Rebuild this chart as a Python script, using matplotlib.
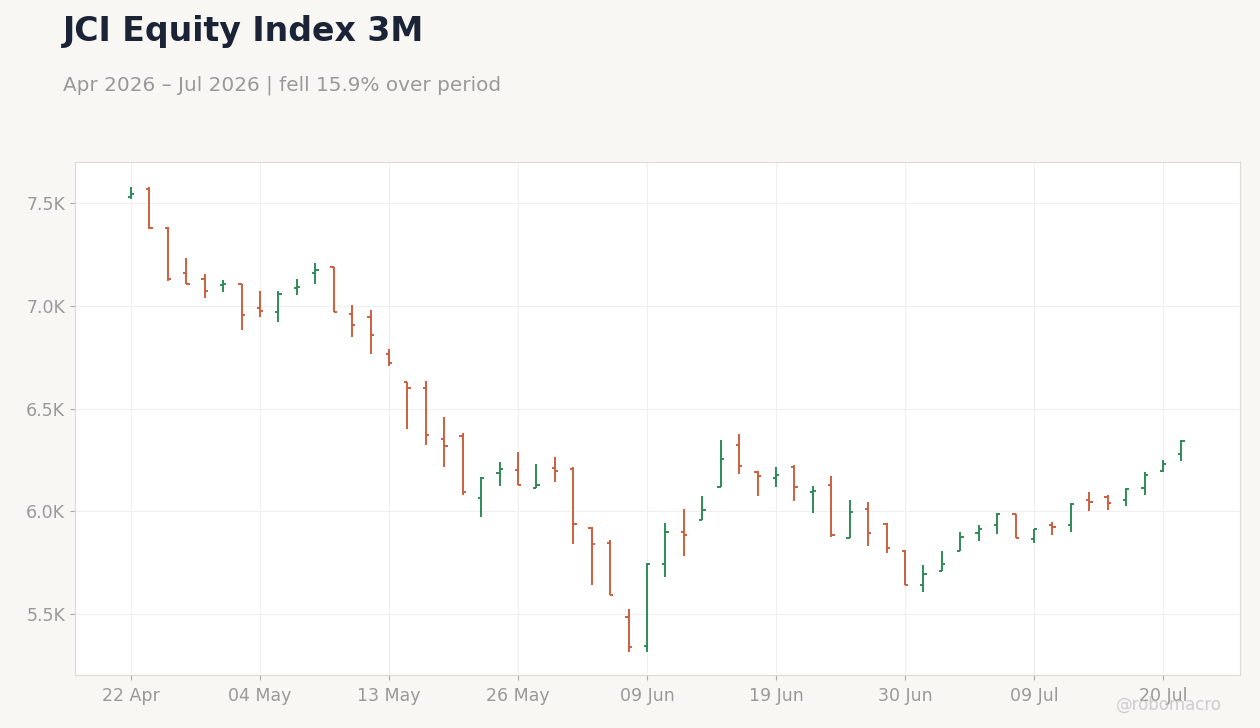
import numpy as np
import matplotlib
matplotlib.use("Agg")
from matplotlib import pyplot as plt
from matplotlib.ticker import FuncFormatter

plt.rcParams['font.family'] = ['DejaVu Sans']

# OHLC values (one bar per trading day)
opens = [7531, 7568, 7380, 7161, 7130, 7099, 7107, 6991, 6971, 7088,
         7161, 7187, 6961, 6945, 6765, 6629, 6601, 6352, 6368, 6065,
         6188, 6202, 6113, 6211, 6206, 5920, 5846, 5485, 5344, 5743,
         5899, 5959, 6118, 6322, 6191, 6162, 6215, 6095, 6128, 5870,
         6011, 5937, 5807, 5641, 5709, 5807, 5896, 5935, 5985, 5865,
         5933, 5933, 6056, 6071, 6056, 6115, 6196, 6277]
highs = [7576, 7580, 7382, 7231, 7153, 7124, 7108, 7072, 7072, 7130,
         7207, 7188, 7002, 6978, 6788, 6630, 6632, 6457, 6379, 6168,
         6238, 6287, 6229, 6263, 6214, 5922, 5859, 5523, 5747, 5941,
         6010, 6073, 6345, 6375, 6196, 6214, 6223, 6121, 6170, 6053,
         6044, 5941, 5809, 5737, 5807, 5898, 5933, 5990, 5986, 5916,
         5946, 6040, 6094, 6078, 6112, 6191, 6248, 6347]
lows = [7518, 7376, 7120, 7104, 7036, 7068, 6880, 6947, 6922, 7052,
        7107, 6968, 6849, 6767, 6708, 6402, 6324, 6217, 6081, 5970,
        6124, 6126, 6113, 6144, 5842, 5643, 5594, 5317, 5317, 5679,
        5784, 5956, 6117, 6183, 6076, 6120, 6051, 5993, 5876, 5870,
        5832, 5798, 5641, 5609, 5709, 5807, 5857, 5891, 5870, 5844,
        5886, 5901, 6003, 6008, 6027, 6081, 6190, 6246]
closes = [7544, 7380, 7130, 7107, 7072, 7104, 6955, 6975, 7059, 7093,
          7176, 6970, 6906, 6858, 6721, 6601, 6373, 6318, 6094, 6162,
          6206, 6129, 6129, 6198, 5938, 5841, 5594, 5340, 5743, 5899,
          5884, 6006, 6254, 6220, 6172, 6178, 6118, 6100, 5886, 5996,
          5896, 5821, 5641, 5695, 5745, 5875, 5914, 5988, 5870, 5915,
          5923, 6037, 6043, 6042, 6110, 6178, 6231, 6343]

tick_pos = [0, 7, 14, 21, 28, 35, 42, 49, 56]
tick_labels = ["22 Apr", "04 May", "13 May", "26 May", "09 Jun",
               "19 Jun", "30 Jun", "09 Jul", "20 Jul"]

up_color = "#2e8b57"
down_color = "#cc5f3e"
bg = "#f8f7f4"

x = np.arange(len(opens))
o = np.array(opens)
h = np.array(highs)
l = np.array(lows)
c = np.array(closes)
colors = [up_color if cc >= oo else down_color for oo, cc in zip(o, c)]

fig = plt.figure(figsize=(12.6, 7.28), dpi=100, facecolor=bg)
ax = fig.add_axes([0.0595, 0.0728, 0.9245, 0.7047])
ax.set_facecolor("white")

tick_w = 0.18
ax.vlines(x, l, h, colors=colors, linewidth=1.4, zorder=3)
ax.hlines(o, x - tick_w, x, colors=colors, linewidth=1.4, zorder=3)
ax.hlines(c, x, x + tick_w, colors=colors, linewidth=1.4, zorder=3)

ax.set_xlim(-3.04, 60.17)
ax.set_ylim(5203, 7700)
ax.set_xticks(tick_pos)
ax.set_xticklabels(tick_labels)
ax.set_yticks([5500, 6000, 6500, 7000, 7500])
ax.yaxis.set_major_formatter(FuncFormatter(lambda v, p: f"{v / 1000:.1f}K"))

ax.grid(True, color="#efefef", linewidth=0.8, zorder=0)
ax.set_axisbelow(True)
for s in ax.spines.values():
    s.set_color("#dddad3")
    s.set_linewidth(0.8)
ax.tick_params(axis="both", colors="#aaaaaa", labelcolor="#999999", labelsize=12.5,
               length=3.5, width=0.8)
ax.tick_params(axis="x", pad=5)

fig.text(0.05, 0.98, "JCI Equity Index 3M", fontsize=23.9, fontweight="bold",
         color="#1b2436", va="top", ha="left")
fig.text(0.05, 0.883, "Apr 2026 \u2013 Jul 2026 | fell 15.9% over period", fontsize=14.4,
         color="#999999", va="center", ha="left")
fig.text(0.97, 0.032, "@robomacro", fontsize=12, color="#bbbbbb", alpha=0.7,
         ha="right", va="center")

fig.savefig("out.png", dpi=100, facecolor=bg)
